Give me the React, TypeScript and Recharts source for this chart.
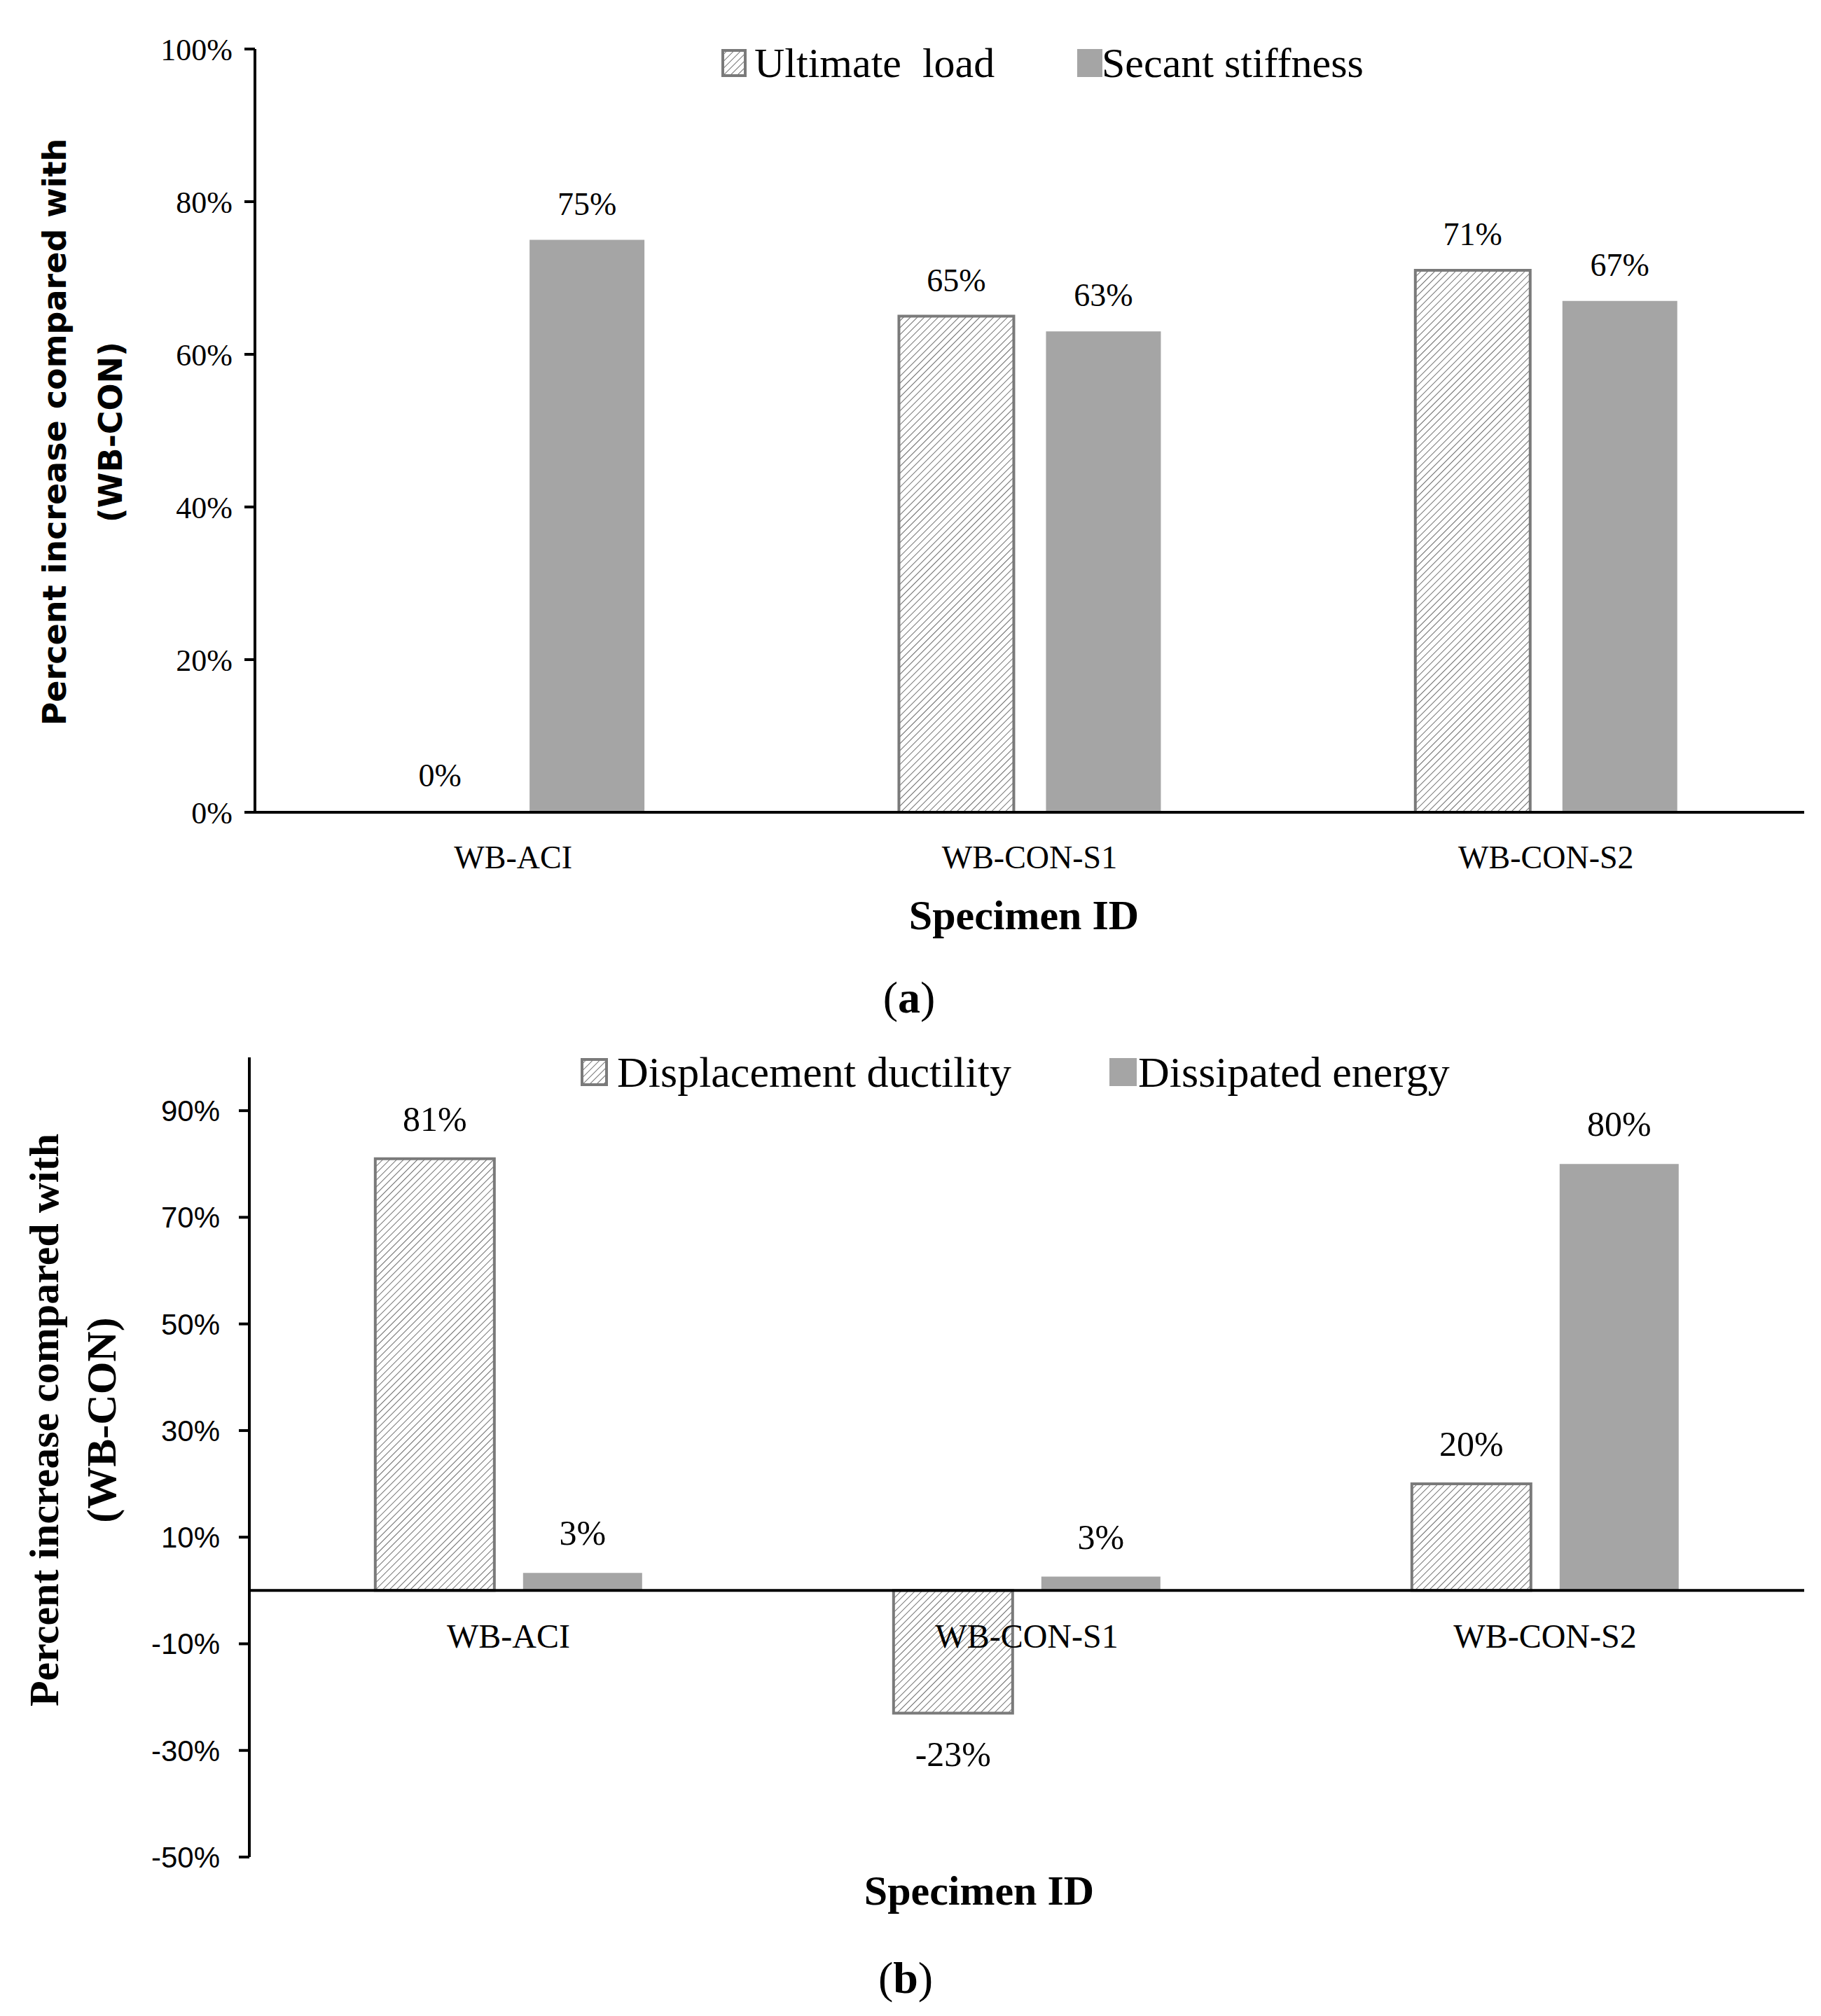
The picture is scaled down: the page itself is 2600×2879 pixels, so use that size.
import React from "react";
import {
  BarChart,
  Bar,
  XAxis,
  YAxis,
  LabelList,
  Legend,
  ReferenceLine,
  Rectangle,
} from "recharts";

const specimens = ["WB-ACI", "WB-CON-S1", "WB-CON-S2"];

// (a)
const ultimateLoad = [0, 65, 71];
const secantStiffness = [75, 63, 67];
const ticksA = [0, 20, 40, 60, 80, 100];

// (b)
const displacementDuctility = [81, -23, 20];
const dissipatedEnergy = [3.3, 2.6, 80];
const ticksB = [-50, -30, -10, 10, 30, 50, 70, 90];
const domainB = [-50, 100];

const dataA = specimens.map((name, i) => ({
  name,
  ultimate: ultimateLoad[i],
  secant: secantStiffness[i],
}));

const dataB = specimens.map((name, i) => ({
  name,
  ductility: displacementDuctility[i],
  energy: dissipatedEnergy[i],
}));

const SERIF = '"Liberation Serif", "Times New Roman", serif';
const SANS = '"Liberation Sans", Arial, sans-serif';
const WIDE_SANS = '"DejaVu Sans", Verdana, sans-serif';
const HATCH_STROKE = "#7a7a7a";
const SOLID = "#a5a5a5";

const pct = (v: number) => `${Math.round(v)}%`;

// chart B geometry, used to put category names under the zero line
const B_HEIGHT = 1479;
const B_MARGIN_TOP = 110;
const B_MARGIN_BOTTOM = 200;
const B_XAXIS_H = 27;
const B_PLOT_H = B_HEIGHT - B_MARGIN_TOP - B_MARGIN_BOTTOM - B_XAXIS_H;
const zeroOffsetB = (B_PLOT_H * (0 - domainB[0])) / (domainB[1] - domainB[0]);

// hatched bar; a zero value keeps its label but draws no box
function HatchShape(props: any) {
  if (props.value === 0 || (props.payload && props.value == null)) return null;
  if (Array.isArray(props.value) && props.value[1] - props.value[0] === 0) return null;
  return <Rectangle {...props} />;
}

function Swatch({ hatched, w, h }: { hatched: boolean; w: number; h: number }) {
  return (
    <svg width={w} height={h} style={{ display: "block" }}>
      {hatched ? (
        <rect
          x={2}
          y={2}
          width={w - 4}
          height={h - 4}
          fill="url(#hatch)"
          stroke={HATCH_STROKE}
          strokeWidth={4}
        />
      ) : (
        <rect x={0} y={0} width={w} height={h} fill={SOLID} />
      )}
    </svg>
  );
}

function makeLegend(
  items: { name: string; box: number; text: number; hatched: boolean }[],
  centerY: number,
  fontSize: number,
  boxW: number,
  boxH: number
) {
  return (props: any) => {
    const payload = props.payload || [];
    return (
      <div style={{ position: "relative", height: 0, width: 2600 }}>
        {payload.map((entry: any, i: number) => {
          const it = items.find((d) => d.name === entry.value);
          if (!it) return null;
          return (
            <React.Fragment key={i}>
              <div
                style={{
                  position: "absolute",
                  left: it.box,
                  top: centerY - boxH / 2,
                }}
              >
                <Swatch hatched={it.hatched} w={boxW} h={boxH} />
              </div>
              <div
                style={{
                  position: "absolute",
                  left: it.text,
                  top: centerY - fontSize * 0.6,
                  fontFamily: SERIF,
                  fontSize,
                  lineHeight: `${fontSize * 1.2}px`,
                  whiteSpace: "pre",
                  color: "#000",
                }}
              >
                {entry.value}
              </div>
            </React.Fragment>
          );
        })}
      </div>
    );
  };
}

const legendA = makeLegend(
  [
    { name: "Ultimate  load", box: 1030, text: 1077, hatched: true },
    { name: "Secant stiffness", box: 1538, text: 1573, hatched: false },
  ],
  90,
  60,
  36,
  40
);

const legendB = makeLegend(
  [
    { name: "Displacement ductility", box: 829, text: 881, hatched: true },
    { name: "Dissipated energy", box: 1584, text: 1625, hatched: false },
  ],
  131,
  62,
  39,
  40
);

function CategoryTickB(props: any) {
  const { x, y, payload } = props;
  return (
    <text
      x={x}
      y={y - zeroOffsetB + 82}
      textAnchor="middle"
      fontFamily={SERIF}
      fontSize={48}
      fill="#000"
    >
      {payload.value}
    </text>
  );
}

function RotatedTitle({
  cx,
  cy,
  font,
  size,
  lineHeight,
}: {
  cx: number;
  cy: number;
  font: string;
  size: number;
  lineHeight: number;
}) {
  return (
    <div
      style={{
        position: "absolute",
        left: cx,
        top: cy,
        transform: "translate(-50%, -50%) rotate(-90deg)",
        whiteSpace: "nowrap",
        textAlign: "center",
        fontFamily: font,
        fontWeight: "bold",
        fontSize: size,
        lineHeight: `${lineHeight}px`,
        color: "#000",
      }}
    >
      <div>Percent increase compared with</div>
      <div>(WB-CON)</div>
    </div>
  );
}

function CenterText({
  cx,
  cy,
  size,
  bold,
  children,
}: {
  cx: number;
  cy: number;
  size: number;
  bold?: boolean;
  children: React.ReactNode;
}) {
  return (
    <div
      style={{
        position: "absolute",
        left: cx,
        top: cy,
        transform: "translate(-50%, -50%)",
        whiteSpace: "nowrap",
        fontFamily: SERIF,
        fontWeight: bold ? "bold" : "normal",
        fontSize: size,
        color: "#000",
      }}
    >
      {children}
    </div>
  );
}

export default function App() {
  return (
    <div
      style={{
        position: "absolute",
        left: 0,
        top: 0,
        width: 2600,
        height: 2879,
        background: "#fff",
        overflow: "hidden",
      }}
    >
      <svg width={0} height={0} style={{ position: "absolute" }}>
        <defs>
          <pattern
            id="hatch"
            patternUnits="userSpaceOnUse"
            width={7}
            height={7}
            patternTransform="rotate(45)"
          >
            <rect width={7} height={7} fill="#fff" />
            <line x1={0} y1={0} x2={0} y2={7} stroke="#707070" strokeWidth={2} />
          </pattern>
        </defs>
      </svg>

      {/* (a) */}
      <div style={{ position: "absolute", left: 0, top: 0 }}>
        <BarChart
          width={2600}
          height={1360}
          data={dataA}
          margin={{ top: 70, right: 24, bottom: 100, left: 264 }}
          barCategoryGap="24.7%"
          barGap={46}
        >
          <XAxis
            dataKey="name"
            axisLine={{ stroke: "#000", strokeWidth: 4 }}
            tickLine={false}
            tickSize={0}
            tickMargin={47}
            height={100}
            interval={0}
            tick={{ fill: "#000", fontSize: 46, fontFamily: SERIF }}
          />
          <YAxis
            width={100}
            domain={[0, 100]}
            ticks={ticksA}
            interval={0}
            tickFormatter={(v: number) => `${v}%`}
            axisLine={{ stroke: "#000", strokeWidth: 4 }}
            tickLine={{ stroke: "#000", strokeWidth: 4 }}
            tickSize={15}
            tickMargin={17}
            tick={{ fill: "#000", fontSize: 44, fontFamily: SERIF }}
          />
          <Legend content={legendA} wrapperStyle={{ left: 0, top: 0, width: 2600, height: 0 }} />
          <Bar
            dataKey="ultimate"
            name="Ultimate  load"
            fill="url(#hatch)"
            stroke={HATCH_STROKE}
            strokeWidth={4}
            minPointSize={1}
            shape={<HatchShape />}
            isAnimationActive={false}
          >
            <LabelList
              dataKey="ultimate"
              position="top"
              offset={36}
              formatter={pct}
              style={{ fill: "#000", fontSize: 46, fontFamily: SERIF }}
            />
          </Bar>
          <Bar
            dataKey="secant"
            name="Secant stiffness"
            fill={SOLID}
            isAnimationActive={false}
          >
            <LabelList
              dataKey="secant"
              position="top"
              offset={36}
              formatter={pct}
              style={{ fill: "#000", fontSize: 46, fontFamily: SERIF }}
            />
          </Bar>
        </BarChart>
      </div>
      <RotatedTitle cx={118} cy={617} font={WIDE_SANS} size={46} lineHeight={80} />
      <CenterText cx={1462} cy={1307} size={60} bold>
        Specimen ID
      </CenterText>
      <CenterText cx={1298} cy={1425} size={64}>
        (<b>a</b>)
      </CenterText>

      {/* (b) */}
      <div style={{ position: "absolute", left: 0, top: 1400 }}>
        <BarChart
          width={2600}
          height={B_HEIGHT}
          data={dataB}
          margin={{ top: B_MARGIN_TOP, right: 24, bottom: B_MARGIN_BOTTOM, left: 256 }}
          barCategoryGap="24.3%"
          barGap={41}
        >
          <XAxis
            dataKey="name"
            axisLine={false}
            tickLine={false}
            tickSize={0}
            tickMargin={0}
            height={B_XAXIS_H}
            interval={0}
            tick={<CategoryTickB />}
          />
          <YAxis
            width={100}
            domain={domainB}
            ticks={ticksB}
            interval={0}
            tickFormatter={(v: number) => `${v}%`}
            axisLine={{ stroke: "#000", strokeWidth: 4 }}
            tickLine={{ stroke: "#000", strokeWidth: 4 }}
            tickSize={15}
            tickMargin={27}
            tick={{ fill: "#000", fontSize: 42, fontFamily: SANS }}
          />
          <Legend content={legendB} wrapperStyle={{ left: 0, top: 0, width: 2600, height: 0 }} />
          <Bar
            dataKey="ductility"
            name="Displacement ductility"
            fill="url(#hatch)"
            stroke={HATCH_STROKE}
            strokeWidth={4}
            isAnimationActive={false}
          >
            <LabelList
              dataKey="ductility"
              position="top"
              offset={40}
              formatter={pct}
              style={{ fill: "#000", fontSize: 50, fontFamily: SERIF }}
            />
          </Bar>
          <Bar
            dataKey="energy"
            name="Dissipated energy"
            fill={SOLID}
            isAnimationActive={false}
          >
            <LabelList
              dataKey="energy"
              position="top"
              offset={40}
              formatter={pct}
              style={{ fill: "#000", fontSize: 50, fontFamily: SERIF }}
            />
          </Bar>
          <ReferenceLine y={0} stroke="#000" strokeWidth={4} />
        </BarChart>
      </div>
      <RotatedTitle cx={104} cy={2028} font={SERIF} size={60} lineHeight={82} />
      <CenterText cx={1398} cy={2700} size={60} bold>
        Specimen ID
      </CenterText>
      <CenterText cx={1293} cy={2825} size={64}>
        (<b>b</b>)
      </CenterText>
    </div>
  );
}
